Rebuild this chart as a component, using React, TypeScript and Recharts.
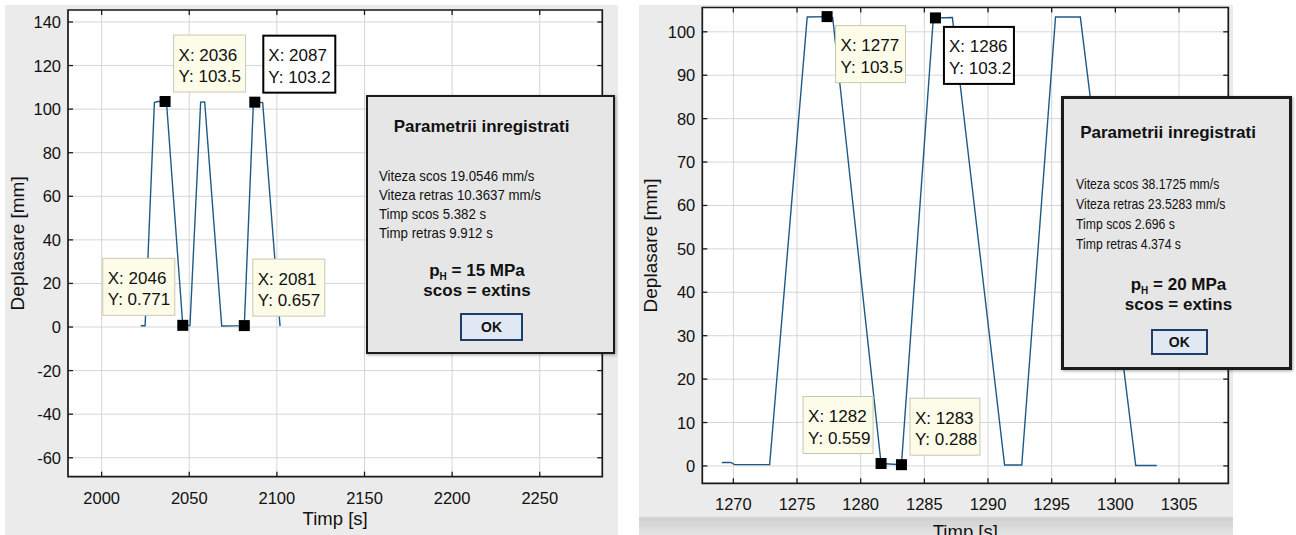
import React from 'react';
import { LineChart, Line, XAxis, YAxis, CartesianGrid, ReferenceDot, ReferenceArea } from 'recharts';

// ---------- data: left panel (pH = 15 MPa) ----------
const leftTime = [2022.3, 2024.8, 2030.1, 2032.0, 2036.2, 2037.0, 2046.3, 2050.4, 2056.5, 2058.8, 2068.5, 2081.4, 2086.6, 2087.4, 2091.9, 2101.8];
const leftDisp = [0.6, 0.6, 103.0, 103.5, 103.5, 103.3, 0.771, 0.7, 103.2, 103.3, 0.5, 0.657, 102.9, 103.2, 103.0, 0.4];
const leftXTicks = [2000, 2050, 2100, 2150, 2200, 2250];
const leftYTicks = [-60, -40, -20, 0, 20, 40, 60, 80, 100, 120, 140];
const leftTipX = [2036.2, 2087.4, 2046.3, 2081.4];
const leftTipY = [103.5, 103.2, 0.771, 0.657];
const leftTipXText = ['2036', '2087', '2046', '2081'];
const leftTipYText = ['103.5', '103.2', '0.771', '0.657'];
const leftParams = ['Viteza scos 19.0546 mm/s', 'Viteza retras 10.3637 mm/s', 'Timp scos 5.382 s', 'Timp retras 9.912 s'];
const leftPressure = '15';

// ---------- data: right panel (pH = 20 MPa) ----------
const rightTime = [1269.1, 1269.8, 1270.1, 1272.85, 1275.8, 1277.36, 1277.8, 1281.6, 1283.2, 1285.7, 1285.87, 1287.2, 1291.3, 1292.65, 1295.3, 1297.25, 1301.6, 1303.25];
const rightDisp = [0.8, 0.8, 0.3, 0.3, 103.4, 103.5, 103.3, 0.559, 0.288, 103.0, 103.2, 103.3, 0.2, 0.2, 103.4, 103.4, 0.1, 0.1];
const rightXTicks = [1270, 1275, 1280, 1285, 1290, 1295, 1300, 1305];
const rightYTicks = [0, 10, 20, 30, 40, 50, 60, 70, 80, 90, 100];
const rightTipX = [1277.36, 1285.87, 1281.6, 1283.2];
const rightTipY = [103.5, 103.2, 0.559, 0.288];
const rightTipXText = ['1277', '1286', '1282', '1283'];
const rightTipYText = ['103.5', '103.2', '0.559', '0.288'];
const rightParams = ['Viteza scos 38.1725 mm/s', 'Viteza retras 23.5283 mm/s', 'Timp scos 2.696 s', 'Timp retras 4.374 s'];
const rightPressure = '20';

const xLabel = 'Timp [s]';
const yLabel = 'Deplasare [mm]';
const dialogTitle = 'Parametrii inregistrati';
const dialogMode = 'scos = extins';

const FONT = '"Liberation Sans", Arial, sans-serif';
const INK = '#111';
const BORDER = '#1a1a1a';
const LINE = '#1f5a85';

type Placement = 'tr' | 'tl' | 'br';

const makeTip = (lx: string, ly: string, placement: Placement, selected: boolean, bw: number, bh: number) => (props: any) => {
  const { cx, cy } = props;
  let bx = cx + 8.5;
  let by = cy - 9.5 - bh;
  if (placement === 'tl') { bx = cx - 8 - bw; by = cy - 10 - bh; }
  if (placement === 'br') { bx = cx + 8.5; by = cy + 9; }
  return (
    <g>
      <rect x={cx - 5.5} y={cy - 5.5} width={11} height={11} fill="#000" />
      <rect x={bx} y={by} width={bw} height={bh} fill={selected ? '#ffffff' : '#fcfce8'} stroke={selected ? '#000' : '#c8c8b2'} strokeWidth={selected ? 2 : 1} />
      <text x={bx + 5} y={by + 20} dominantBaseline="central" fontSize={17} fill={INK} fontFamily={FONT}>{'X: ' + lx}</text>
      <text x={bx + 5} y={by + 41.5} dominantBaseline="central" fontSize={17} fill={INK} fontFamily={FONT}>{'Y: ' + ly}</text>
    </g>
  );
};

// bottom axis tick: inward tick at bottom and at top of the box, plus label
const bottomTick = (fs: number, plotTop: number) => (props: any) => {
  const { x, y, payload } = props;
  return (
    <g>
      <line x1={x} x2={x} y1={y} y2={y - 5} stroke={BORDER} strokeWidth={1.3} />
      <line x1={x} x2={x} y1={plotTop} y2={plotTop + 5} stroke={BORDER} strokeWidth={1.3} />
      <text x={x} y={y + 21} textAnchor="middle" dominantBaseline="central" fontSize={fs} fill={INK} fontFamily={FONT}>{payload.value}</text>
    </g>
  );
};
// left axis tick: inward tick at left and at right of the box, plus label
const leftTick = (fs: number, plotRight: number) => (props: any) => {
  const { x, y, payload } = props;
  return (
    <g>
      <line x1={x} x2={x + 5} y1={y} y2={y} stroke={BORDER} strokeWidth={1.3} />
      <line x1={plotRight} x2={plotRight - 5} y1={y} y2={y} stroke={BORDER} strokeWidth={1.3} />
      <text x={x - 7} y={y} textAnchor="end" dominantBaseline="central" fontSize={fs} fill={INK} fontFamily={FONT}>{payload.value}</text>
    </g>
  );
};

interface PanelProps {
  time: number[]; disp: number[]; xTicks: number[]; yTicks: number[];
  tipX: number[]; tipY: number[]; tipXText: string[]; tipYText: string[];
  width: number; height: number;
  margin: { top: number; right: number; bottom: number; left: number };
  yAxisWidth: number; xDomain: [number, number]; yDomain: [number, number];
  yLabelX: number; xLabelBaseline: number; placements: Placement[]; selected: number;
  bw: number; bh: number; tickFont: number;
}

const Panel = (p: PanelProps) => {
  const data = p.time.map((t, i) => ({ x: t, y: p.disp[i] }));
  const plotTop = p.margin.top;
  const plotRight = p.width - p.margin.right;
  return (
    <LineChart width={p.width} height={p.height} data={data} margin={p.margin}>
      <CartesianGrid fill="#ffffff" stroke="#d6d6d6" strokeWidth={1} />
      <XAxis dataKey="x" type="number" domain={p.xDomain} allowDataOverflow ticks={p.xTicks} interval={0}
        tickSize={0} tickMargin={0} tickLine={false} axisLine={false} height={40} tick={bottomTick(p.tickFont, plotTop)}
        label={(lp: any) => {
          const vb = lp.viewBox || {};
          const cx = (vb.x ?? 0) + (vb.width ?? 0) / 2;
          return <text x={cx} y={p.xLabelBaseline} textAnchor="middle" fontSize={18.5} fill={INK} fontFamily={FONT}>{xLabel}</text>;
        }} />
      <YAxis type="number" domain={p.yDomain} allowDataOverflow ticks={p.yTicks} interval={0} width={p.yAxisWidth}
        tickSize={0} tickMargin={0} tickLine={false} axisLine={false} tick={leftTick(p.tickFont, plotRight)}
        label={(lp: any) => {
          const vb = lp.viewBox || {};
          const cy = (vb.y ?? 0) + (vb.height ?? 0) / 2;
          return <text x={p.yLabelX} y={cy} transform={`rotate(-90, ${p.yLabelX}, ${cy})`} textAnchor="middle" fontSize={19} fill={INK} fontFamily={FONT}>{yLabel}</text>;
        }} />
      <ReferenceArea x1={p.xDomain[0]} x2={p.xDomain[1]} y1={p.yDomain[0]} y2={p.yDomain[1]} ifOverflow="visible"
        fill="none" fillOpacity={0} stroke={BORDER} strokeWidth={1.7} />
      <Line type="linear" dataKey="y" stroke={LINE} strokeWidth={1.4} dot={false} activeDot={false} isAnimationActive={false} />
      {p.tipX.map((tx, i) => (
        <ReferenceDot key={i} x={tx} y={p.tipY[i]} r={5}
          shape={makeTip(p.tipXText[i], p.tipYText[i], p.placements[i], i === p.selected, p.bw, p.bh)} />
      ))}
    </LineChart>
  );
};

interface DialogProps {
  left: number; top: number; width: number; height: number; border: number;
  params: string[]; pressure: string;
  titleC: [number, number]; lineX: number; lineY: number[]; lineScale: number;
  pC: [number, number]; sC: [number, number]; ok: [number, number, number, number];
}

const Dialog = (d: DialogProps) => {
  const center = (c: [number, number]): React.CSSProperties => ({
    position: 'absolute', left: c[0], top: c[1], transform: 'translate(-50%, -50%)', whiteSpace: 'nowrap',
  });
  return (
    <div style={{
      position: 'absolute', left: d.left, top: d.top, width: d.width, height: d.height, boxSizing: 'border-box',
      background: '#e6e6e6', border: `${d.border}px solid #1b1b1b`, boxShadow: '1px 1px 3px rgba(0,0,0,0.35)',
      fontFamily: FONT, color: INK,
    }}>
      <div style={{ ...center(d.titleC), fontWeight: 'bold', fontSize: 17 }}>{dialogTitle}</div>
      {d.params.map((t, i) => (
        <div key={i} style={{ position: 'absolute', left: d.lineX, top: d.lineY[i], transform: `translateY(-50%) scaleX(${d.lineScale})`, transformOrigin: 'left center', whiteSpace: 'nowrap', fontSize: 14.5 }}>{t}</div>
      ))}
      <div style={{ ...center(d.pC), fontWeight: 'bold', fontSize: 17 }}>
        p<span style={{ fontSize: 10, position: 'relative', top: 4 }}>H</span> = {d.pressure} MPa
      </div>
      <div style={{ ...center(d.sC), fontWeight: 'bold', fontSize: 17 }}>{dialogMode}</div>
      <div style={{
        position: 'absolute', left: d.ok[0], top: d.ok[1], width: d.ok[2], height: d.ok[3], boxSizing: 'border-box',
        border: '2px solid #1f3d6b', background: '#dfe8f3', display: 'flex', alignItems: 'center', justifyContent: 'center',
        fontWeight: 'bold', fontSize: 14,
      }}>OK</div>
    </div>
  );
};

export default function App() {
  return (
    <div style={{ position: 'absolute', left: 0, top: 0, width: 1296, height: 535, background: '#ffffff', overflow: 'hidden', fontFamily: FONT }}>
      <div style={{ position: 'absolute', left: 5, top: 5, width: 613, height: 530, background: '#ebebeb' }} />
      <div style={{ position: 'absolute', left: 639, top: 5, width: 594, height: 530, background: 'linear-gradient(to bottom, #ebebeb 0px, #ebebeb 511px, #d0d0d0 513px, #e4e4e4 530px)' }} />

      <div style={{ position: 'absolute', left: 0, top: 0 }}>
        <Panel time={leftTime} disp={leftDisp} xTicks={leftXTicks} yTicks={leftYTicks}
          tipX={leftTipX} tipY={leftTipY} tipXText={leftTipXText} tipYText={leftTipYText}
          width={620} height={535} margin={{ top: 10, right: 17.7, bottom: 18.3, left: 0 }}
          yAxisWidth={68} xDomain={[1980.8, 2285.7]} yDomain={[-68.7, 145.5]}
          yLabelX={24} xLabelBaseline={525} placements={['tr', 'tr', 'tl', 'tr']} selected={1}
          bw={72} bh={57} tickFont={16.5} />
      </div>
      <div style={{ position: 'absolute', left: 640, top: 0 }}>
        <Panel time={rightTime} disp={rightDisp} xTicks={rightXTicks} yTicks={rightYTicks}
          tipX={rightTipX} tipY={rightTipY} tipXText={rightTipXText} tipYText={rightTipYText}
          width={593} height={535} margin={{ top: 7.5, right: 4.7, bottom: 11.7, left: 0 }}
          yAxisWidth={62.3} xDomain={[1267.56, 1308.87]} yDomain={[-4.0, 105.6]}
          yLabelX={17} xLabelBaseline={538} placements={['br', 'br', 'tl', 'tr']} selected={1}
          bw={70} bh={57} tickFont={16.5} />
      </div>

      <Dialog left={366} top={94.5} width={249} height={259} border={2} params={leftParams} pressure={leftPressure}
        titleC={[113.5, 30.5]} lineX={11} lineY={[79.5, 98.5, 117.5, 136.5]} lineScale={0.915}
        pC={[109, 174.5]} sC={[109, 194.5]} ok={[92, 216.5, 63, 27.5]} />
      <Dialog left={1060.5} top={95.6} width={231.5} height={274.4} border={3} params={rightParams} pressure={rightPressure}
        titleC={[104.5, 34.1]} lineX={12.5} lineY={[85.4, 105.4, 125.4, 145]} lineScale={0.844}
        pC={[115, 186]} sC={[115, 206.4]} ok={[87, 230.4, 57.5, 26]} />
    </div>
  );
}
